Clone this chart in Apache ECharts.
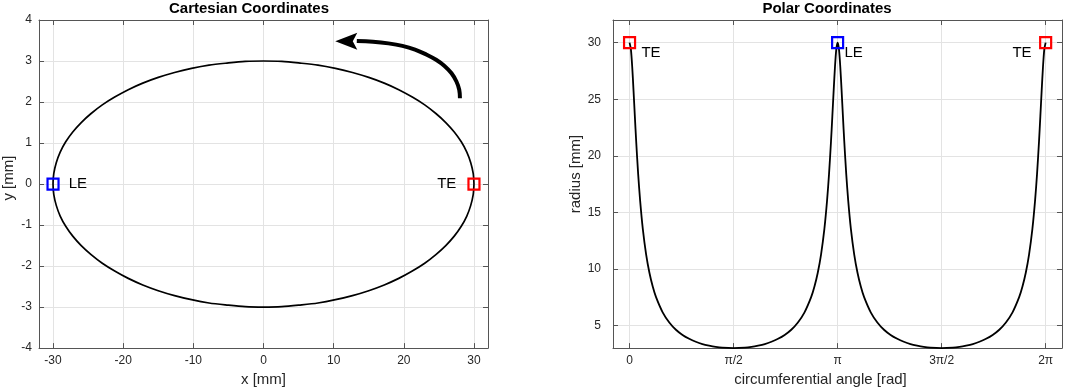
<!DOCTYPE html>
<html>
<head>
<meta charset="utf-8">
<script src="https://cdn.jsdelivr.net/npm/echarts@6/dist/echarts.min.js"></script>
<style>
  html, body { margin: 0; padding: 0; background: #fff; }
  #chart { width: 1065px; height: 392px; }
</style>
</head>
<body>
<div id="chart"></div>
<script>
// ellipse outline (x, y in mm)
const cartX = [30, 29.89, 29.54, 28.98, 28.19, 27.19, 25.98, 24.57, 22.98, 21.21, 19.28, 17.21, 15.00, 12.68, 10.26, 7.76, 5.21, 2.61, 0,
  -2.61, -5.21, -7.76, -10.26, -12.68, -15.00, -17.21, -19.28, -21.21, -22.98, -24.57, -25.98, -27.19, -28.19, -28.98, -29.54, -29.89, -30,
  -29.89, -29.54, -28.98, -28.19, -27.19, -25.98, -24.57, -22.98, -21.21, -19.28, -17.21, -15.00, -12.68, -10.26, -7.76, -5.21, -2.61, 0,
  2.61, 5.21, 7.76, 10.26, 12.68, 15.00, 17.21, 19.28, 21.21, 22.98, 24.57, 25.98, 27.19, 28.19, 28.98, 29.54, 29.89, 30];
const cartY = [0, 0.26, 0.52, 0.78, 1.03, 1.27, 1.50, 1.72, 1.93, 2.12, 2.30, 2.46, 2.60, 2.72, 2.82, 2.90, 2.95, 2.99, 3.00,
  2.99, 2.95, 2.90, 2.82, 2.72, 2.60, 2.46, 2.30, 2.12, 1.93, 1.72, 1.50, 1.27, 1.03, 0.78, 0.52, 0.26, 0,
  -0.26, -0.52, -0.78, -1.03, -1.27, -1.50, -1.72, -1.93, -2.12, -2.30, -2.46, -2.60, -2.72, -2.82, -2.90, -2.95, -2.99, -3.00,
  -2.99, -2.95, -2.90, -2.82, -2.72, -2.60, -2.46, -2.30, -2.12, -1.93, -1.72, -1.50, -1.27, -1.03, -0.78, -0.52, -0.26, 0];

// rotation arrow (shaft points, then head position)
const arrowX = [28.0, 27.9, 27.5, 26.8, 25.8, 24.6, 23.2, 21.6, 19.8, 17.8, 15.6, 13.3];
const arrowY = [2.09, 2.30, 2.50, 2.70, 2.88, 3.03, 3.16, 3.28, 3.37, 3.43, 3.47, 3.49];
const arrowHead = [11.8, 3.48];

// radius vs circumferential angle
const polarAngle = [0, 0.02, 0.04, 0.06, 0.08, 0.10, 0.13, 0.16, 0.20, 0.25, 0.30, 0.35, 0.40, 0.50, 0.60, 0.70, 0.80, 0.90, 1.00, 1.10, 1.20, 1.30, 1.40, 1.571,
  1.742, 1.842, 1.942, 2.042, 2.142, 2.242, 2.342, 2.442, 2.542, 2.642, 2.742, 2.792, 2.842, 2.892, 2.942, 2.982, 3.012, 3.042, 3.062, 3.082, 3.102, 3.122, 3.142,
  3.162, 3.182, 3.202, 3.222, 3.242, 3.272, 3.302, 3.342, 3.392, 3.442, 3.492, 3.542, 3.642, 3.742, 3.842, 3.942, 4.042, 4.142, 4.242, 4.342, 4.442, 4.542, 4.712,
  4.883, 4.983, 5.083, 5.183, 5.283, 5.383, 5.483, 5.583, 5.683, 5.783, 5.883, 5.933, 5.983, 6.033, 6.083, 6.123, 6.153, 6.183, 6.203, 6.223, 6.243, 6.263, 6.283];
const polarRadius = [30, 29.42, 27.87, 25.76, 23.48, 21.28, 18.38, 16.01, 13.54, 11.29, 9.66, 8.44, 7.50, 6.16, 5.26, 4.62, 4.16, 3.82, 3.56, 3.36, 3.22, 3.11, 3.04, 3.00,
  3.04, 3.11, 3.22, 3.36, 3.56, 3.82, 4.16, 4.62, 5.26, 6.16, 7.50, 8.44, 9.66, 11.29, 13.54, 16.01, 18.38, 21.28, 23.48, 25.76, 27.87, 29.42, 30,
  29.42, 27.87, 25.76, 23.48, 21.28, 18.38, 16.01, 13.54, 11.29, 9.66, 8.44, 7.50, 6.16, 5.26, 4.62, 4.16, 3.82, 3.56, 3.36, 3.22, 3.11, 3.04, 3.00,
  3.04, 3.11, 3.22, 3.36, 3.56, 3.82, 4.16, 4.62, 5.26, 6.16, 7.50, 8.44, 9.66, 11.29, 13.54, 16.01, 18.38, 21.28, 23.48, 25.76, 27.87, 29.42, 30];

// edge markers
const cartMarkers = [[30, 0, 'TE'], [-30, 0, 'LE']];
const polarMarkers = [[0, 30, 'TE'], [Math.PI, 30, 'LE'], [2 * Math.PI, 30, 'TE']];

// ticks
const cartXTicks = [-30, -20, -10, 0, 10, 20, 30];
const radiusTicks = [5, 10, 15, 20, 25, 30];
const angleTicks = [0, Math.PI / 2, Math.PI, 3 * Math.PI / 2, 2 * Math.PI];
const angleTickLabels = ['0', 'π/2', 'π', '3π/2', '2π'];

const zip = (a, b) => a.map((v, i) => [v, b[i]]);

const FONT = '"Liberation Sans", Arial, Helvetica, sans-serif';
const TEXT = '#262626';
const BOX = '#555';
const GRIDC = '#e3e3e3';
const RED = '#f00';
const BLUE = '#00f';

function boxAxis(extra, main) {
  const ax = Object.assign({
    type: 'value',
    axisLine: { show: true, onZero: false, lineStyle: { color: BOX, width: 1 } },
    axisTick: { show: true, inside: true, length: 5, lineStyle: { color: BOX } },
    axisLabel: { show: main, color: TEXT, fontSize: 12, fontFamily: FONT },
    splitLine: { show: main, lineStyle: { color: GRIDC, width: 1 } },
    nameTextStyle: { color: TEXT, fontSize: 15, fontFamily: FONT }
  }, extra);
  return ax;
}

const chart = echarts.init(document.getElementById('chart'), null, { renderer: 'canvas' });

const option = {
  animation: false,
  backgroundColor: '#fff',
  title: [
    { text: 'Cartesian Coordinates', left: 249, top: 1, textAlign: 'center', padding: 0,
      textStyle: { fontSize: 15, fontWeight: 'bold', color: '#000', fontFamily: FONT } },
    { text: 'Polar Coordinates', left: 827, top: 1, textAlign: 'center', padding: 0,
      textStyle: { fontSize: 15, fontWeight: 'bold', color: '#000', fontFamily: FONT } }
  ],
  grid: [
    { left: 39, top: 20, width: 449, height: 332 },
    { left: 613, top: 20, width: 449, height: 332 }
  ],
  xAxis: [
    boxAxis({ gridIndex: 0, position: 'bottom', min: -32, max: 32,
      name: 'x [mm]', nameLocation: 'middle', nameGap: 23,
      axisTick: { show: true, inside: true, length: 5, customValues: cartXTicks, lineStyle: { color: BOX } },
      axisLabel: { show: true, margin: 7, customValues: cartXTicks, color: TEXT, fontSize: 12, fontFamily: FONT }
    }, true),
    boxAxis({ gridIndex: 0, position: 'top', min: -32, max: 32,
      axisTick: { show: true, inside: true, length: 5, customValues: cartXTicks, lineStyle: { color: BOX } }
    }, false),
    boxAxis({ gridIndex: 1, position: 'bottom', min: -0.25, max: 6.53,
      name: 'circumferential angle [rad]', nameLocation: 'middle', nameGap: 23,
      nameTextStyle: { color: TEXT, fontSize: 15, fontFamily: FONT, padding: [0, 34, 0, 0] },
      axisTick: { show: true, inside: true, length: 5, customValues: angleTicks, lineStyle: { color: BOX } },
      axisLabel: { show: true, margin: 7, customValues: angleTicks, color: TEXT, fontSize: 12, fontFamily: FONT,
        formatter: function (v) {
          let best = 0;
          angleTicks.forEach(function (t, i) { if (Math.abs(t - v) < Math.abs(angleTicks[best] - v)) best = i; });
          return angleTickLabels[best];
        } }
    }, true),
    boxAxis({ gridIndex: 1, position: 'top', min: -0.25, max: 6.53,
      axisTick: { show: true, inside: true, length: 5, customValues: angleTicks, lineStyle: { color: BOX } }
    }, false)
  ],
  yAxis: [
    boxAxis({ gridIndex: 0, position: 'left', min: -4, max: 4, interval: 1,
      name: 'y [mm]', nameLocation: 'middle', nameGap: 23,
      nameTextStyle: { color: TEXT, fontSize: 15, fontFamily: FONT, padding: [0, 0, 0, 12] },
      axisLabel: { show: true, margin: 7, color: TEXT, fontSize: 12, fontFamily: FONT }
    }, true),
    boxAxis({ gridIndex: 0, position: 'right', min: -4, max: 4, interval: 1 }, false),
    boxAxis({ gridIndex: 1, position: 'left', min: 3, max: 32,
      name: 'radius [mm]', nameLocation: 'middle', nameGap: 27,
      nameTextStyle: { color: TEXT, fontSize: 15, fontFamily: FONT, padding: [0, 0, 0, 20] },
      axisTick: { show: true, inside: true, length: 5, customValues: radiusTicks, lineStyle: { color: BOX } },
      axisLabel: { show: true, margin: 12, customValues: radiusTicks, color: TEXT, fontSize: 12, fontFamily: FONT }
    }, true),
    boxAxis({ gridIndex: 1, position: 'right', min: 3, max: 32,
      axisTick: { show: true, inside: true, length: 5, customValues: radiusTicks, lineStyle: { color: BOX } }
    }, false)
  ],
  series: [
    {
      type: 'line', xAxisIndex: 0, yAxisIndex: 0,
      data: zip(cartX, cartY), smooth: 0.3, showSymbol: false, z: 3,
      lineStyle: { color: '#000', width: 1.7 }
    },
    {
      type: 'line', xAxisIndex: 0, yAxisIndex: 0,
      data: zip(arrowX, arrowY), smooth: 0.4, showSymbol: false, z: 3,
      lineStyle: { color: '#000', width: 4, cap: 'butt' }
    },
    {
      type: 'scatter', xAxisIndex: 0, yAxisIndex: 0, z: 4,
      data: [arrowHead],
      symbol: 'path://M0,8.5L22,0L17.5,8.5L22,17Z', symbolSize: [22, 17],
      itemStyle: { color: '#000', opacity: 1 }
    },
    {
      type: 'scatter', xAxisIndex: 0, yAxisIndex: 0, z: 5,
      data: cartMarkers.map(function (m) {
        const isTE = m[2] === 'TE';
        return {
          value: [m[0], m[1]],
          itemStyle: { color: 'rgba(0,0,0,0)', borderColor: isTE ? RED : BLUE, borderWidth: 2.2, opacity: 1 },
          label: {
            show: true, formatter: m[2], position: isTE ? 'left' : 'right', distance: isTE ? 11 : 9,
            color: '#000', fontSize: 15, fontFamily: FONT
          }
        };
      }),
      symbol: 'rect', symbolSize: 11
    },
    {
      type: 'line', xAxisIndex: 2, yAxisIndex: 2,
      data: zip(polarAngle, polarRadius), smooth: 0.25, showSymbol: false, z: 3,
      lineStyle: { color: '#000', width: 1.8 }
    },
    {
      type: 'scatter', xAxisIndex: 2, yAxisIndex: 2, z: 5,
      data: polarMarkers.map(function (m, i) {
        const isTE = m[2] === 'TE';
        const last = i === polarMarkers.length - 1;
        return {
          value: [m[0], m[1]],
          itemStyle: { color: 'rgba(0,0,0,0)', borderColor: isTE ? RED : BLUE, borderWidth: 2.2, opacity: 1 },
          label: {
            show: true, formatter: m[2],
            position: last ? [-7.5, 17] : (isTE ? [18.5, 17] : [13.5, 17]),
            align: last ? 'right' : 'left', verticalAlign: 'middle',
            color: '#000', fontSize: 15, fontFamily: FONT
          }
        };
      }),
      symbol: 'rect', symbolSize: 11
    }
  ]
};

chart.setOption(option);
</script>
</body>
</html>
